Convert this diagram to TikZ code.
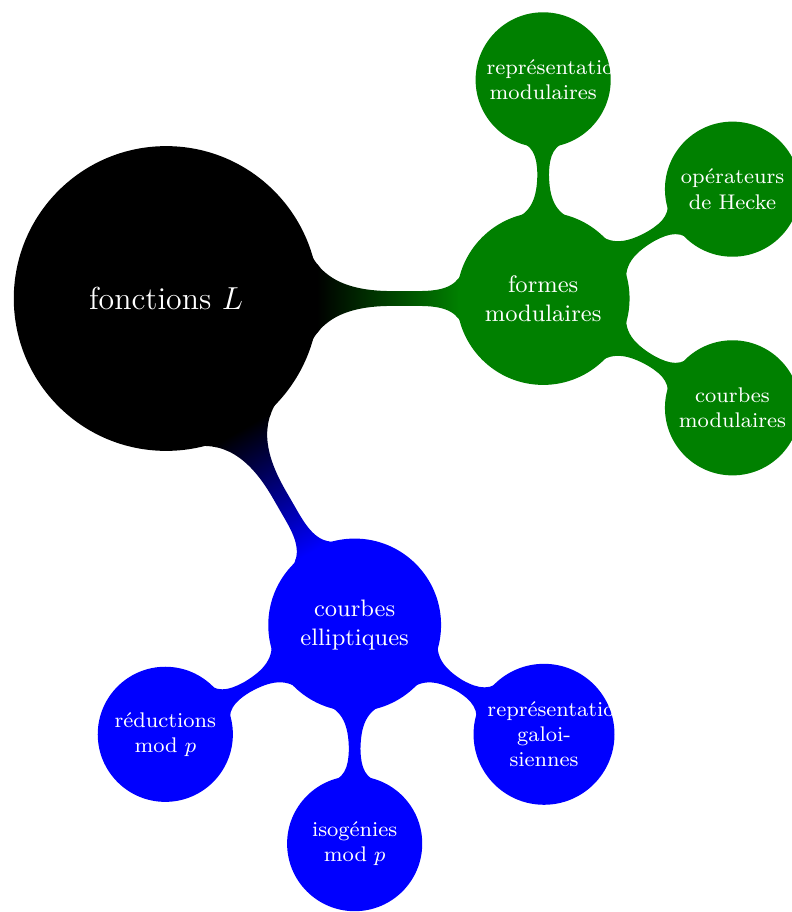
\documentclass[tikz,border=0pt]{standalone}
\usetikzlibrary{mindmap}
\hyphenation{galoi-siennes}
\begin{document}
\begin{tikzpicture}[mindmap, concept color=black, text=white]
\useasboundingbox (-2.204,-8.137) rectangle (8.300,3.959);
\node[concept] (root) {fonctions $L$}
  child[concept color=green!50!black, grow=0] {node[concept] (fm) {formes modulaires}
    child[grow=90] {node[concept] (rm) {représentations modulaires}}
    child[grow=30] {node[concept] (oh) {opérateurs de Hecke}}
    child[grow=-30] {node[concept] (cm) {courbes modulaires}}
  }
  child[concept color=blue, grow=-60] {node[concept] (ce) {courbes elliptiques}
    child[grow=-150] {node[concept] (rp) {réductions mod $p$}}
    child[grow=-90] {node[concept] (ip) {isogénies mod $p$}}
    child[grow=-30] {node[concept] (rg) {représentations galoisiennes}}
  };
\end{tikzpicture}
\end{document}
